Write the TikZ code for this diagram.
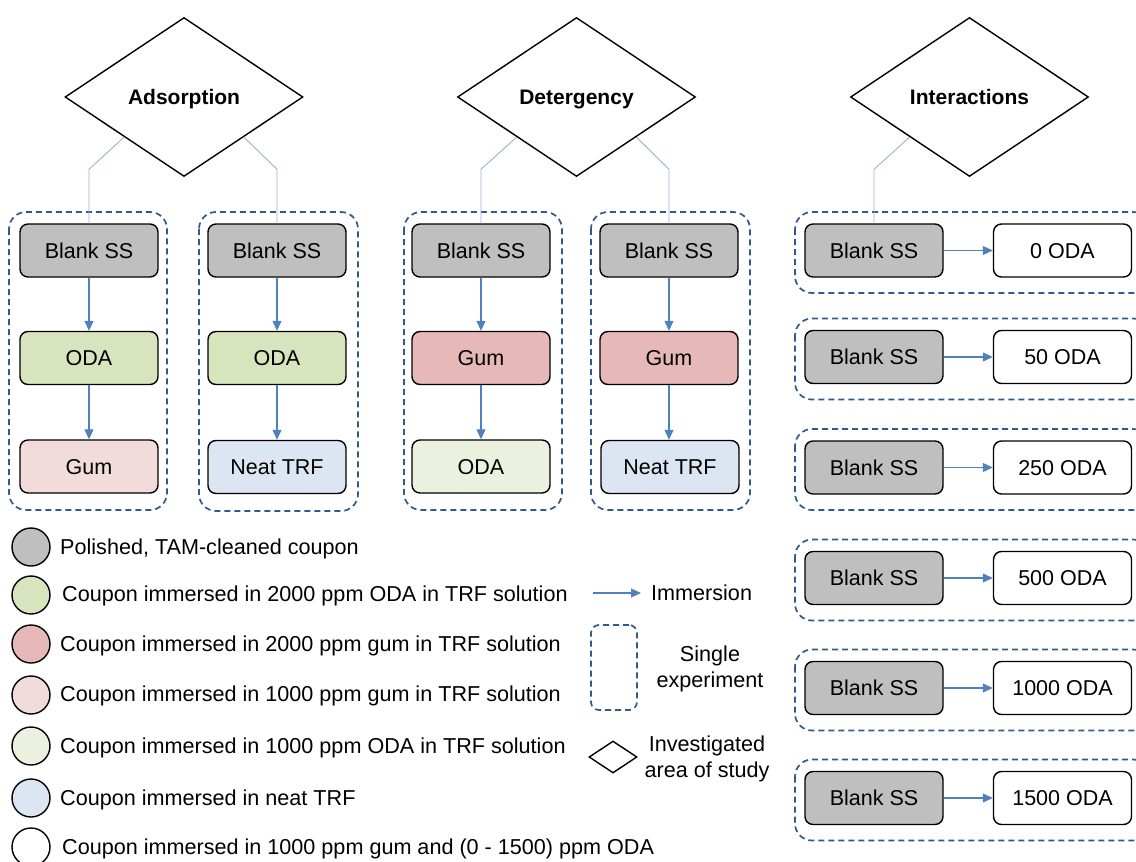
\documentclass[tikz,border=0pt]{standalone}
\usepackage{fontspec}
\setmainfont{Liberation Sans}
\usetikzlibrary{shapes.geometric,arrows.meta}

\definecolor{blankfill}{HTML}{BFBFBF}
\definecolor{odastrong}{HTML}{D7E4BD}
\definecolor{gumstrong}{HTML}{E6B9B8}
\definecolor{gumlight}{HTML}{F2DCDB}
\definecolor{odalight}{HTML}{EBF1DE}
\definecolor{neatfill}{HTML}{DCE6F2}
\definecolor{framecol}{HTML}{2F5A8A}
\definecolor{flowcol}{HTML}{4F81BD}
\definecolor{linkcol}{HTML}{95B3D7}

\tikzset{
  coupon/.style={draw=black, line width=1.4pt, rounded corners=8pt,
    minimum width=138pt, minimum height=53pt, inner sep=0pt,
    text height=15pt, text depth=0pt},
  area/.style={draw=black, line width=1.4pt, shape=diamond,
    minimum width=238pt, minimum height=159pt, inner sep=0pt,
    font=\fontsize{21}{25}\selectfont\bfseries, text height=15pt, text depth=0pt},
  flowarrow/.style={draw=flowcol, line width=1.1pt,
    -{Triangle[length=10pt,width=9pt]}},
  linkline/.style={draw=linkcol, line width=0.9pt},
  group/.style={draw=framecol, line width=1.7pt,
    dash pattern=on 6pt off 4pt, rounded corners=17pt},
  key/.style={circle, draw=black, line width=1.4pt, minimum size=38pt, inner sep=0pt},
  keytext/.style={anchor=west, inner sep=0pt, text height=15pt, text depth=0pt,
    font=\fontsize{21.6}{26}\selectfont},
}

\begin{document}
\begin{tikzpicture}[x=1pt, y=-1pt, font=\fontsize{21.5}{25}\selectfont]
\useasboundingbox (0,0) rectangle (1136,862);
\clip (0,0) rectangle (1136,862);

% dashed frames, one per experiment
\draw[group] (9,212) rectangle (167,510);
\draw[group] (199,212) rectangle (358,511);
\draw[group] (404,212) rectangle (562,510);
\draw[group] (591,212) rectangle (750,510);
\foreach \y in {250.5,357,467.5,578,688,798}
  \draw[group] (795,\y-38.5) rectangle (1150,\y+42.5);

% areas of study
\node[area] (ads) at (184,97) {Adsorption};
\node[area] (det) at (576.5,97) {Detergency};
\node[area] (int) at (969.5,97) {Interactions};

% adsorption experiments
\node[coupon, fill=blankfill] (a1) at (89,250.5) {Blank SS};
\node[coupon, fill=odastrong] (a2) at (89,358) {ODA};
\node[coupon, fill=gumlight]  (a3) at (89,466.5) {Gum};
\node[coupon, fill=blankfill] (b1) at (277,250.5) {Blank SS};
\node[coupon, fill=odastrong] (b2) at (277,358) {ODA};
\node[coupon, fill=neatfill]  (b3) at (277,467) {Neat TRF};

% detergency experiments
\node[coupon, fill=blankfill] (c1) at (481,250.5) {Blank SS};
\node[coupon, fill=gumstrong] (c2) at (481,358) {Gum};
\node[coupon, fill=odalight]  (c3) at (481,466.5) {ODA};
\node[coupon, fill=blankfill] (d1) at (669,250.5) {Blank SS};
\node[coupon, fill=gumstrong] (d2) at (669,358) {Gum};
\node[coupon, fill=neatfill]  (d3) at (670,467) {Neat TRF};

% interaction experiments
\foreach \y/\v [count=\i] in {250.5/0,357/50,467.5/250,578/500,688/1000,798/1500} {
  \node[coupon, fill=blankfill] (i\i) at (874,\y) {Blank SS};
  \node[coupon, fill=white] (o\i) at (1062.5,\y) {\v{} ODA};
  \draw[flowarrow] (i\i.east) -- (o\i.west);
}

% links from the areas of study
\draw[linkline] (ads.south west) -- ([yshift=54pt]a1.north) -- (a1.north);
\draw[linkline] (ads.south east) -- ([yshift=54pt]b1.north) -- (b1.north);
\draw[linkline] (det.south west) -- ([yshift=54pt]c1.north) -- (c1.north);
\draw[linkline] (det.south east) -- ([yshift=54pt]d1.north) -- (d1.north);
\draw[linkline] (int.south west) -- ([yshift=54pt]i1.north) -- (i1.north);

% immersion steps
\foreach \p/\q in {a1/a2,a2/a3,b1/b2,b2/b3,c1/c2,c2/c3,d1/d2}
  \draw[flowarrow] (\p.south) -- (\q.north);
\draw[flowarrow] (d2.south) -- (d2.south |- d3.north);

% legend: coupon states
\node[key, fill=blankfill] (k1) at (31,547) {};
\node[key, fill=odastrong] (k2) at (31,595) {};
\node[key, fill=gumstrong] (k3) at (31,644) {};
\node[key, fill=gumlight]  (k4) at (31,695) {};
\node[key, fill=odalight]  (k5) at (31,746) {};
\node[key, fill=neatfill]  (k6) at (31,798) {};
\node[key, fill=white]     (k7) at (31,847) {};
\node[keytext] (t1) at (60,547) {Polished, TAM-cleaned coupon};
\node[keytext] (t2) at (62,594) {Coupon immersed in 2000 ppm ODA in TRF solution};
\node[keytext] (t3) at (60,644) {Coupon immersed in 2000 ppm gum in TRF solution};
\node[keytext] (t4) at (60,694) {Coupon immersed in 1000 ppm gum in TRF solution};
\node[keytext] (t5) at (60,746) {Coupon immersed in 1000 ppm ODA in TRF solution};
\node[keytext] (t6) at (60,798) {Coupon immersed in neat TRF};
\node[keytext] (t7) at (62,847) {Coupon immersed in 1000 ppm gum and (0 - 1500) ppm ODA};

% legend: symbols
\coordinate (ia) at (593,593);
\coordinate (ib) at (641,593);
\draw[flowarrow] (ia) -- (ib);
\node[keytext] (li) at (651,593) {Immersion};
\node[draw=framecol, line width=1.7pt, dash pattern=on 6pt off 4pt,
  rounded corners=8pt, minimum width=46pt, minimum height=85pt, inner sep=0pt]
  (ls) at (614,667.5) {};
\node[align=center, font=\fontsize{21.6}{26}\selectfont] (lst) at (710,669) {Single\\experiment};
\node[draw=black, line width=1.4pt, shape=diamond, minimum width=48pt,
  minimum height=32pt, inner sep=0pt] (ld) at (613,757) {};
\node[align=center, font=\fontsize{21.6}{26}\selectfont] (ldt) at (707,759) {Investigated\\area of study};
\end{tikzpicture}
\end{document}
